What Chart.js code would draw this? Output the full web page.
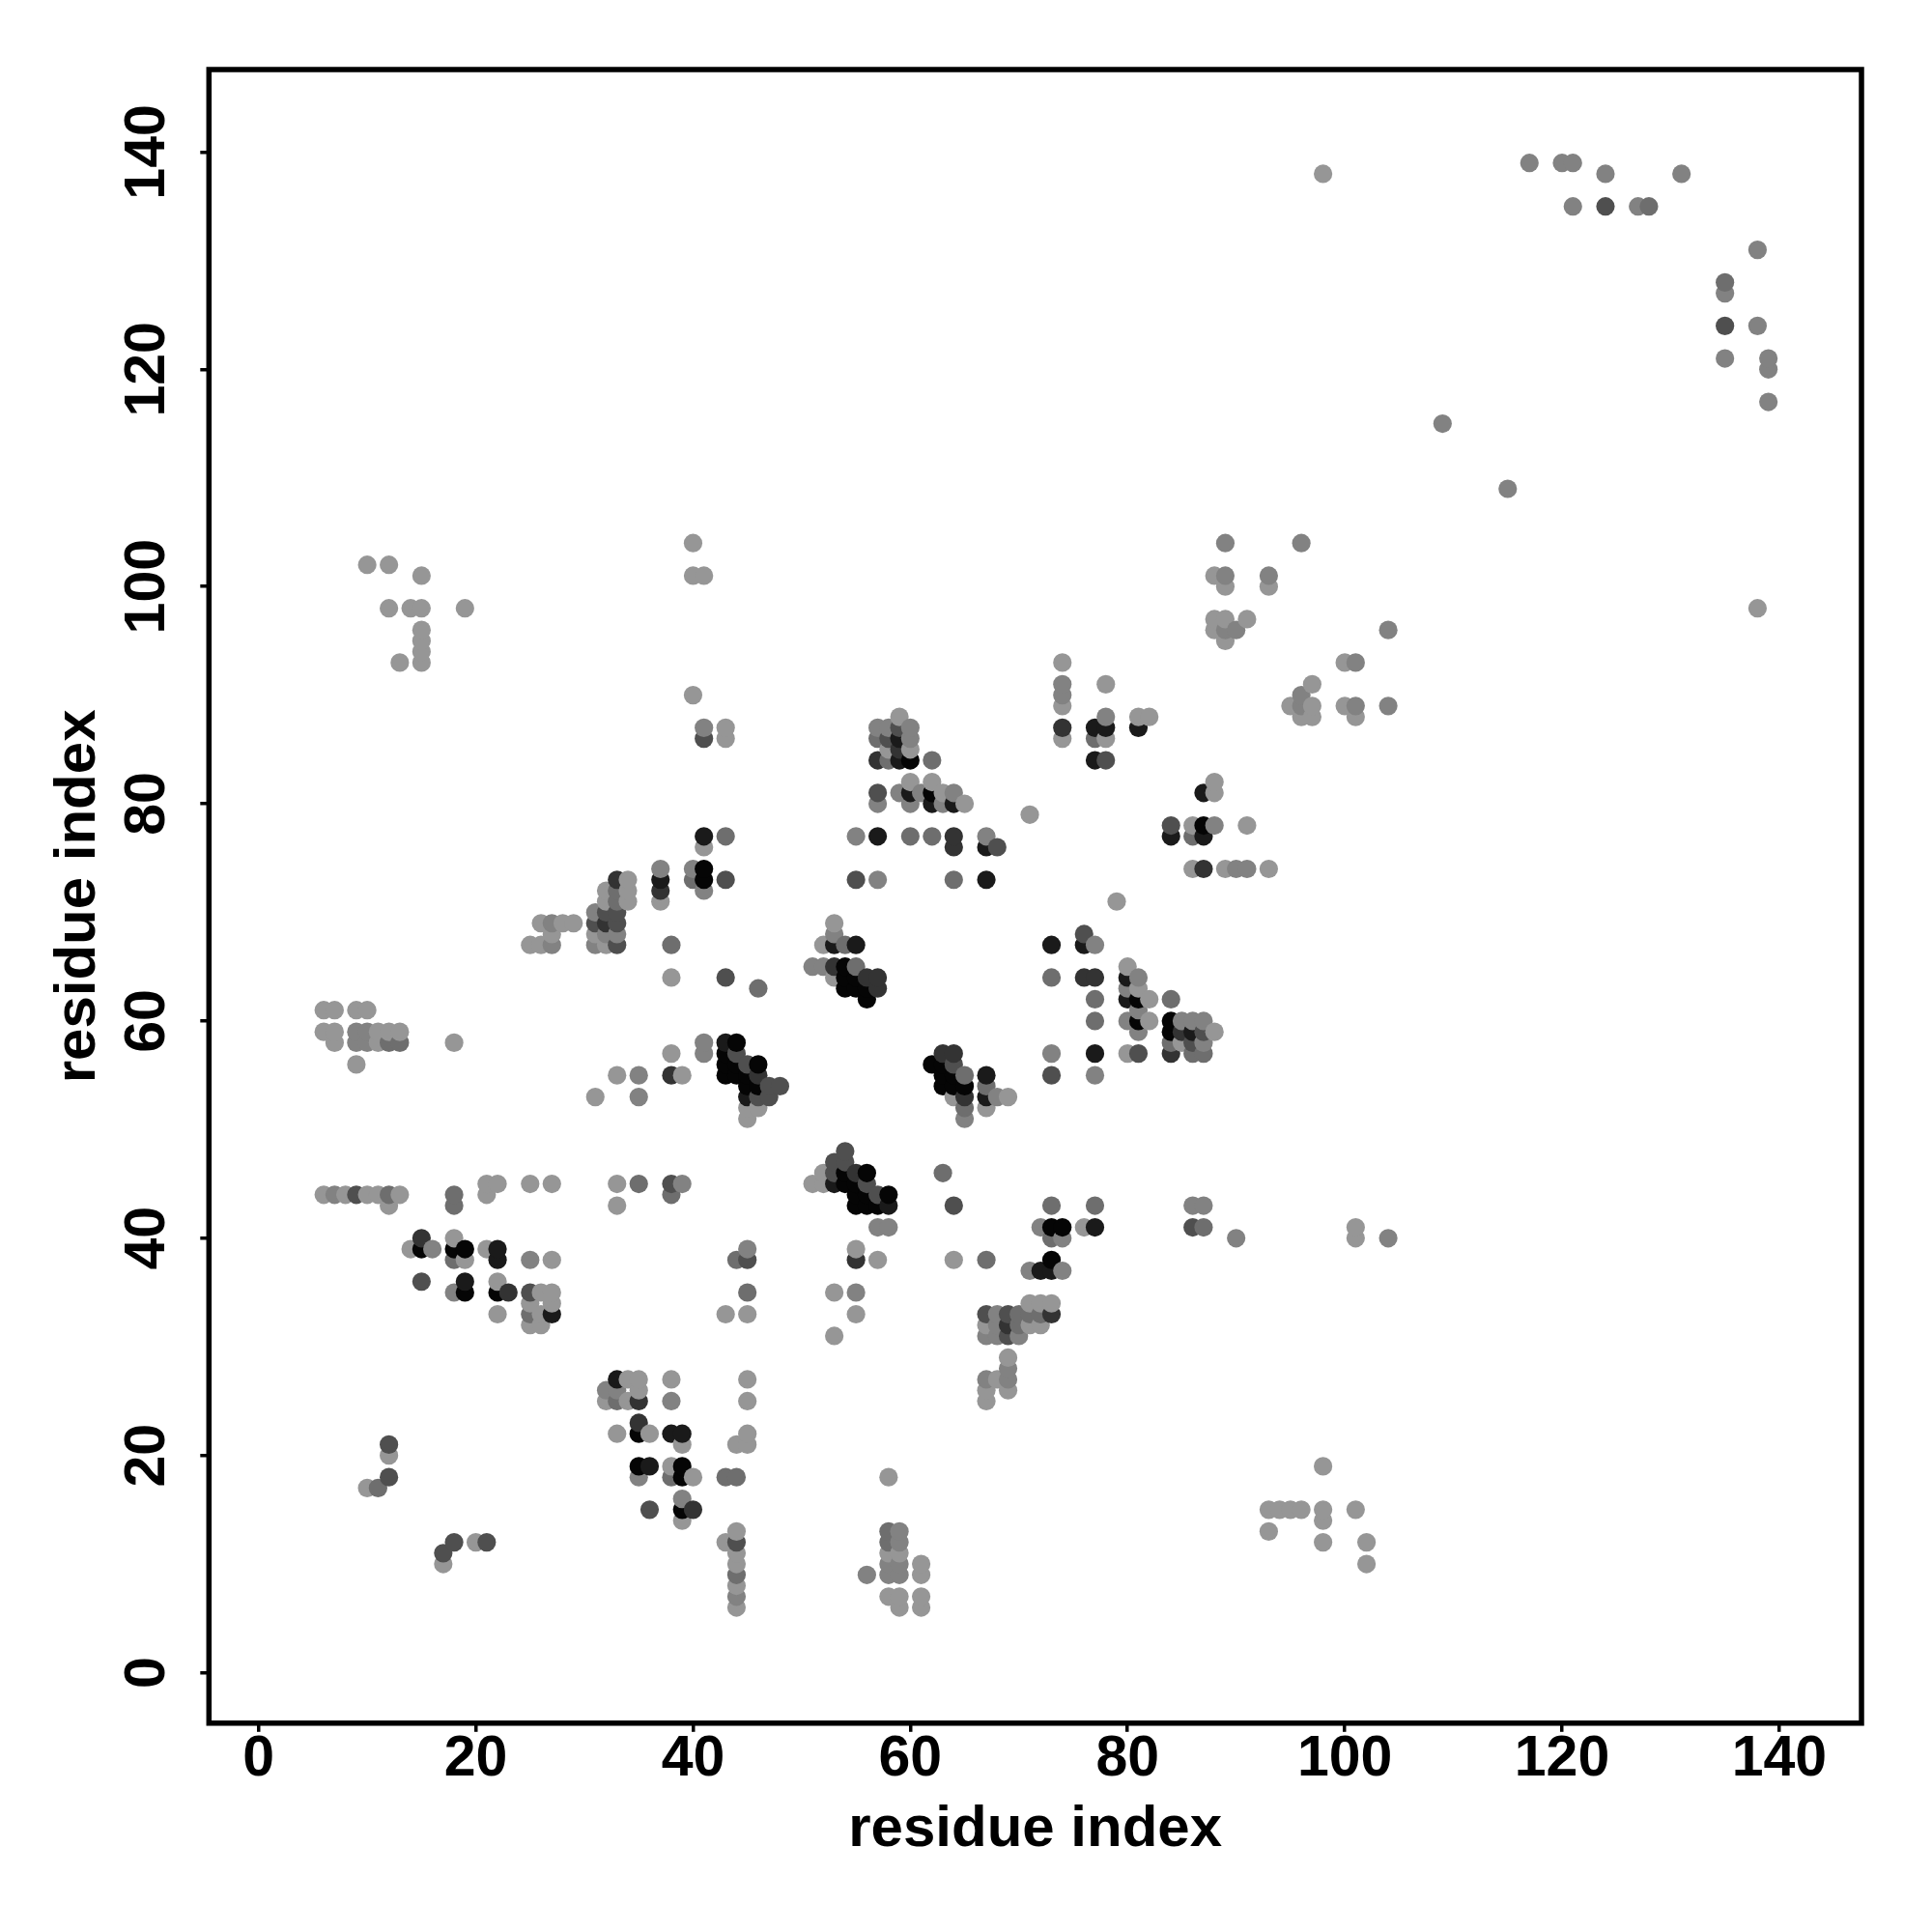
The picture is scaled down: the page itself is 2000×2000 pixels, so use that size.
<!DOCTYPE html>
<html><head><meta charset="utf-8">
<style>html,body{margin:0;padding:0;background:#fff}canvas{display:block}</style>
<script src="https://cdn.jsdelivr.net/npm/chart.js@4"></script>
</head><body>
<div style="width:2000px;height:2000px;position:relative"><canvas id="c" width="2000" height="2000"></canvas></div>
<script>
const xTitle = "residue index";
const yTitle = "residue index";
const tickValues = [0,20,40,60,80,100,120,140];
const shadePalette = ['#969696','#828282','#6e6e6e','#4f4f4f','#333333','#1a1a1a','#050505'];
const residueColumns = [6,7,8,9,10,11,12,13,14,15,16,17,18,19,20,21,22,23,25,26,27,28,29,31,32,33,34,35,36,37,38,39,40,41,43,44,45,46,47,48,51,52,53,54,55,56,57,58,59,60,61,62,63,64,65,67,68,69,70,71,72,73,74,76,77,78,79,80,81,82,84,85,86,87,88,89,90,91,93,94,95,96,97,98,100,101,102,104,109,115,117,120,121,124,127,128,131,135,138,139];
const contactsByColumn = [
[44,59,61],[44,58,59,61],[44],[44,56,58,59,61],[17,44,58,59,61,102],[17,44,58,59],
[18,20,21,43,44,58,59,98,102],[44,58,59,93],[39,98],[36,39,40,93,94,95,96,98,101],[39],[10,11],
[12,35,38,39,40,43,44,58],[35,36,38,39,98],[12],[12,39,44,45],[33,35,36,38,39,45],[35],
[32,33,34,35,38,45,67],[32,33,35,67,69],[33,34,35,38,45,67,68,69],[69],[69],
[53,67,68,69,70],[25,26,67,68,69,70,71,72],[22,25,26,27,43,45,55,67,68,69,70,71,72,73],[25,27,71,72,73],
[18,19,22,23,25,26,27,45,53,55],[15,19,22],[71,72,73,74],[18,19,22,25,27,44,45,55,57,64,67],
[14,15,16,18,19,21,22,45,55],[15,18,73,74,90,101,104],[57,58,72,73,74,76,77,86,87,101],
[12,18,33,55,56,57,58,64,73,77,86,87],[6,7,8,9,10,11,12,13,18,21,38,55,56,57,58],
[21,22,25,27,33,35,38,39,51,52,53,54,55,56],[52,53,54,55,56,63],[53,54],[54],
[45,65],[45,46,65,67],[31,35,45,46,47,64,65,67,68,69],[45,46,47,48,63,64,65,67],
[33,35,38,39,43,44,45,46,63,64,65,67,73,77],[9,43,44,45,46,62,63,64],
[38,41,43,44,63,64,73,77,80,81,84,86,87],[7,9,10,11,12,13,18,41,43,44,84,85,86,87],
[6,7,9,10,11,12,13,81,84,85,86,87,88],[77,80,81,82,84,85,86,87],[6,7,9,10,81],[56,77,80,81,82,84],
[46,54,55,56,57,80,81],[38,43,53,54,55,56,57,73,76,77,80,81],[51,52,53,54,55,80],
[25,26,27,31,32,33,38,52,53,54,55,73,76,77],[27,31,32,33,53,76],[26,27,28,29,31,32,33,53],[31,32,33],
[32,33,34,37,79],[32,33,34,37,41],[33,34,37,38,40,41,43,55,57,64,67],[37,40,41,86,87,89,90,91,93],
[41,64,67,68],[41,43,55,57,60,62,64,67,84,86,87],[84,86,87,88,91],[71],[57,60,62,63,64,65],
[57,59,60,61,62,63,64,87,88],[60,62,88],[57,58,59,60,62,77,78],[58,59,60],[41,43,57,58,59,60,74,77,78],
[41,43,57,58,59,60,74,77,78,81],[59,78,81,82,96,97,101],[74,95,96,97,100,101,104],[40,74,96],[74,78,97],
[13,15,74,100,101],[15],[15,89],[15,88,89,90,104],[88,89,91],[12,14,15,19,138],[89,93],[15,40,41,88,89,93],
[10,12],[40,89,96],[115],[109],[139],[139],[135,139],[135,138],[135],[135],[138],[121,124,127,128],[98,124,131],[117,120,121]
];
const shadesByColumn = [
[0,0,0],[1,0,0,0],[0],[3,0,1,1,0],[0,0,1,1,0,0],[2,0,0,0],
[3,0,3,0,2,2,0,0,0],[0,2,0,0],[0,0],[3,6,4,0,0,0,0,0,0],[1],[0,3],
[3,1,2,6,0,2,2,0],[6,5,0,6,0],[0],[3,0,0,0],[0,6,0,5,5,0],[4],
[0,2,0,3,1,0,0],[0,0,0,0,0],[5,0,0,0,0,1,0,1],[0],[0],
[0,1,0,3,1],[0,1,0,1,4,3,0,0],[0,2,1,5,0,0,0,3,1,3,3,2,2,4],[0,0,0,0,0],
[1,6,6,4,4,0,0,2,1,1],[3,5,0],[0,4,5,1],[2,0,5,1,0,2,3,4,0,0,2],
[0,6,1,6,6,0,5,1,0],[4,0,2,1,0,0,0],[1,1,1,6,6,0,5,3,1,0],
[0,2,0,6,6,6,5,3,3,2,0,0],[0,1,0,2,0,0,3,0,2,0,2,6,6,3,6],
[0,0,0,0,0,2,3,1,0,0,5,6,6,3],[0,3,6,4,6,2],[3,3],[3],
[0,1],[0,0,1,0],[0,0,5,3,3,0,4,5,1,0],[6,6,3,3,6,6,6,2],
[0,1,4,0,6,6,6,4,6,6,2,5,3,1],[1,6,6,3,6,6,6,4],
[0,1,6,3,4,4,1,5,1,3,4,2,1],[0,1,1,0,2,2,0,1,5,6,2,0,3,1],
[0,0,1,1,0,1,1,1,5,4,5,3,0],[2,1,5,0,6,0,1,1],[0,0,0,0,1],[6,2,5,6,0,2],
[2,6,6,6,4,1,0],[0,3,0,6,6,3,4,2,4,4,5,1],[1,2,4,6,2,0],
[0,0,1,1,0,3,2,0,5,2,5,5,5,1],[0,1,1,1,1,3],[0,1,1,0,3,4,3,0],[1,2,2],
[0,2,0,1,0],[0,2,0,5,1],[4,0,5,6,2,6,2,3,1,2,5],[1,1,6,0,4,0,1,1,0],
[0,4,5,3],[5,2,1,5,2,2,4,1,5,2,5],[3,0,5,1,0],[0],[0,1,5,1,5,0],
[3,1,6,1,6,0,1,5,0],[0,0,0],[4,2,6,6,2,5,3],[0,4,1],[3,1,2,3,5,1,0,2,0],
[2,1,2,1,3,1,4,5,6,5],[0,1,0,0,0,0,0],[0,0,1,0,0,1,1],[1,1,1],[1,0,0],
[0,0,0,0,1],[0],[0,0],[0,0,1,1,1],[0,0,0],[0,0,0,0,0],[0,0],[0,0,0,0,1,1],
[0,0],[1,1,1],[1],[1],[1],[1],[1,1],[3,1],[1],[2],[1],[1,3,1,2],[0,1,1],[1,1,1]
];

const points = [], colors = [];
residueColumns.forEach((x, i) => {
  contactsByColumn[i].forEach((y, j) => {
    points.push({x, y});
    colors.push(shadePalette[shadesByColumn[i][j]]);
  });
});

const fontFamily = '"Liberation Sans", Arial, sans-serif';
const axisCommon = {
  grid: {display: true, drawOnChartArea: false, drawTicks: true, tickLength: 9, tickWidth: 3.5, tickColor: '#000', color: '#000', lineWidth: 3.5},
  border: {display: false},
  afterBuildTicks: s => { s.ticks = tickValues.map(v => ({value: v})); }
};
const framePlugin = {
  id: 'frame',
  afterDraw(chart) {
    const a = chart.chartArea, c = chart.ctx;
    c.save(); c.strokeStyle = '#000'; c.lineWidth = 5.5;
    c.strokeRect(a.left, a.top, a.right - a.left, a.bottom - a.top);
    c.restore();
  }
};
new Chart(document.getElementById('c'), {
  type: 'scatter',
  data: {datasets: [{data: points, pointBackgroundColor: colors, pointBorderWidth: 0, pointRadius: 9.6, pointHoverRadius: 9.6, clip: false}]},
  plugins: [framePlugin],
  options: {
    responsive: false, animation: false, devicePixelRatio: 1,
    layout: {padding: {left: 0, top: 72, right: 73, bottom: 0}},
    plugins: {legend: {display: false}, tooltip: {enabled: false}},
    scales: {
      x: {...axisCommon, type: 'linear', min: -4.57, max: 147.57,
        afterFit: s => { s.height = 2000 - 1783.8; },
        ticks: {color: '#000', font: {family: fontFamily, weight: 'bold', size: 59}, padding: -6, maxRotation: 0, minRotation: 0, autoSkip: false},
        title: {display: true, text: xTitle, color: '#000', font: {family: fontFamily, weight: 'bold', size: 60}, padding: {top: 0, bottom: 70}}
      },
      y: {...axisCommon, type: 'linear', min: -4.65, max: 147.6,
        afterFit: s => { s.width = 216.3; },
        ticks: {color: '#000', font: {family: fontFamily, weight: 'bold', size: 59}, padding: 4.5, minRotation: 90, maxRotation: 90, crossAlign: 'center', autoSkip: false},
        title: {display: true, text: yTitle, color: '#000', font: {family: fontFamily, weight: 'bold', size: 60}, padding: {top: 45, bottom: 0}}
      }
    }
  }
});
</script>
</body></html>
